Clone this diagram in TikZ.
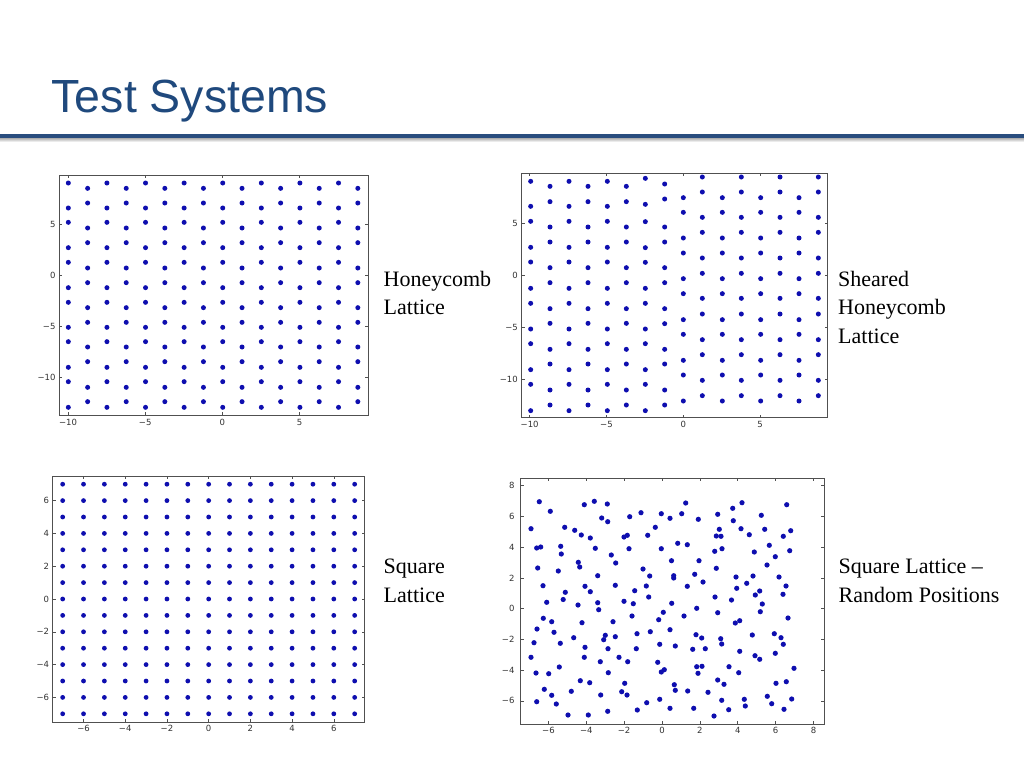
\documentclass[tikz,border=0pt]{standalone}
\usepackage{fontspec}
\setmainfont{Liberation Serif}
\newfontfamily\titlefont{Liberation Sans}
\newfontfamily\tickfont{DejaVu Sans}
\definecolor{titleblue}{RGB}{31,73,125}
\definecolor{ruleblue}{RGB}{41,77,126}
\definecolor{dotblue}{RGB}{14,14,175}
\definecolor{axisgray}{RGB}{80,80,80}
\begin{document}
\begin{tikzpicture}[x=1pt,y=-1pt,
  dot/.style={fill=dotblue},
  frame/.style={draw=axisgray,line width=0.8pt},
  tk/.style={draw=axisgray,line width=0.6pt},
  tl/.style={font=\tickfont\fontsize{8.5}{9}\selectfont,text=black!80,inner sep=0pt},
  lbl/.style={font=\fontsize{22}{28.5}\selectfont,align=left,anchor=base west,inner sep=0pt}]
\useasboundingbox (0,0) rectangle (1024,768);
\fill[white] (0,0) rectangle (1024,768);

% ---------- title and rule ----------
\node[anchor=base west,inner sep=0pt,font=\titlefont\fontsize{46.5}{50}\selectfont,text=titleblue] (title) at (51.5,112) {Test Systems};
\shade[top color=black!40,bottom color=white] (0,137) rectangle (1024,142);
\fill[ruleblue] (0,133.5) rectangle (1024,137.5);

% ---------- plot 1: honeycomb ----------
\begin{scope}[shift={(30pt,-160pt)},x=0.33333pt,y=-0.33333pt]
\foreach \xx in {115,230.8,346.6,462.4,578.2,694,809.8,925.6}
  \foreach \yy in {69,144,187,263,307,383,427,502,545,622,665,742}
    \fill[dot] (\xx,\yy) circle (2.5pt);
\foreach \xx in {172.9,288.7,404.5,520.3,636.1,751.9,867.7,983.5}
  \foreach \yy in {85,129,204,248,324,368,443,487,561,605,682,725}
    \fill[dot] (\xx,\yy) circle (2.5pt);
\draw[frame] (87,45) rectangle (1015,765);
\foreach \v/\t [count=\k] in {114/−10,345.5/−5,577/0,808.5/5} {
  \draw[tk] (\v,765) -- ++(0,-9) (\v,45) -- ++(0,9);
  \node[tl,anchor=north] (aax\k) at (\v,776) {\t};
}
\foreach \v/\t [count=\k] in {193/5,345/0,499/−5,652/−10} {
  \draw[tk] (87,\v) -- ++(9,0) (1015,\v) -- ++(-9,0);
  \node[tl,anchor=east] (aay\k) at (77,\v) {\t};
}
\end{scope}

% ---------- plot 2: sheared honeycomb ----------
\begin{scope}[shift={(490pt,-160pt)},x=0.33333pt,y=-0.33333pt]
\foreach \xx in {122,237,352}
  \foreach \yy in {64,139,184,262,306,385,430,507,551,629,673,752}
    \fill[dot] (\xx,\yy) circle (2.5pt);
\foreach \yy in {55,133,185,263,307,385,430,507,551,629,673,752}
  \fill[dot] (466,\yy) circle (2.5pt);
\foreach \xx in {180,294,409}
  \foreach \yy in {79,125,201,246,323,368,446,490,568,612,690,735}
    \fill[dot] (\xx,\yy) circle (2.5pt);
\foreach \yy in {72,117,201,246,323,368,446,491,568,612,690,735}
  \fill[dot] (524,\yy) circle (2.5pt);
\foreach \xx in {580,697,812,927}
  \foreach \yy in {113,157,234,279,356,401,479,523,601,645,723}
    \fill[dot] (\xx,\yy) circle (2.5pt);
\foreach \xx in {637,754,870,985}
  \foreach \yy in {51,96,172,217,294,340,415,462,539,584,661,707}
    \fill[dot] (\xx,\yy) circle (2.5pt);
\draw[frame] (95,40) rectangle (1013,773);
\foreach \v/\t [count=\k] in {119/−10,349.5/−5,580/0,810.5/5} {
  \draw[tk] (\v,773) -- ++(0,-9) (\v,40) -- ++(0,9);
  \node[tl,anchor=north] (abx\k) at (\v,782) {\t};
}
\foreach \v/\t [count=\k] in {190/5,346/0,502/−5,658/−10} {
  \draw[tk] (95,\v) -- ++(9,0) (1013,\v) -- ++(-9,0);
  \node[tl,anchor=east] (aby\k) at (84,\v) {\t};
}
\end{scope}

% ---------- plot 3: square lattice ----------
\begin{scope}[shift={(30pt,-470pt)},x=0.33333pt,y=-0.33333pt]
\foreach \i in {-7,...,7}
  \foreach \j in {-7,...,7}
    \fill[dot] ({536+62.57*\i},{387-49.2*\j}) circle (2.4pt);
\draw[frame] (68,18) rectangle (1004,757);
\foreach \v/\t [count=\k] in {160.6/−6,285.7/−4,410.9/−2,536/0,661.1/2,786.3/4,911.4/6} {
  \draw[tk] (\v,757) -- ++(0,-9) (\v,18) -- ++(0,9);
  \node[tl,anchor=north] (acx\k) at (\v,766) {\t};
}
\foreach \v/\t [count=\k] in {91.8/6,190.2/4,288.6/2,387/0,485.4/−2,583.8/−4,682.2/−6} {
  \draw[tk] (68,\v) -- ++(9,0) (1004,\v) -- ++(-9,0);
  \node[tl,anchor=east] (acy\k) at (58,\v) {\t};
}
\end{scope}

% ---------- plot 4: random positions ----------
\foreach \px/\py in {
539.3/501.7, 550.3/511.3, 584.3/504.7, 594.3/501.3, 607.3/504, 601.7/518, 607.7/521.7, 629.7/516.7, 641/512.7, 661.3/513.7, 670/518.3, 531/528.7, 564.7/527.3, 574.7/530.3, 581.3/535, 590.3/538, 624/537, 627.3/535.3, 647.7/535.3, 655.3/527.3, 536.7/548, 540.7/547, 560.7/546.3, 595.3/548.3, 629/548.7, 661.3/548.7, 561.3/554, 611.3/555, 615.7/563, 578.3/562.3, 579.7/567, 537.7/568, 558.3/571, 597.7/575.7, 643/569, 649.7/576, 671.5/560.7, 543/585.7, 585/586.3, 590.3/591.7, 615.3/585.3, 565.3/592.3, 634.7/590.7, 646.3/586, 648.7/597,
685.7/503, 681.7/513.7, 698.3/519.3, 717.7/514.3, 732.7/508.3, 742/502.7, 733.3/520.7, 761.3/515.3, 786.7/504.7, 719.3/529.3, 741/528.7, 749.3/534.7, 764.7/529.3, 790.7/530.7, 783.3/536.3, 716.3/536, 721/536.3, 677.7/543.3, 687.3/544.7, 722/548.7, 714.7/551.3, 754.3/552, 769.3/545.3, 789.7/550.7, 699/560.7, 775.3/556.7, 767/565, 716.3/568.3, 673.7/575.7, 673.7/578, 694.7/574.3, 703/582, 687.3/586.3, 736/577, 753/576, 746.7/583.3, 736.7/588.3, 779/577, 786/586, 759.7/591, 755.3/595, 783/594.3, 715/597, 731.5/600,
546.7/602.3, 563.2/599.5, 578/605, 597.7/602.7, 598.7/609.7, 624/601.3, 633.3/603.7, 632/616, 663.3/612.3, 658.7/619.7, 671.7/603.3, 543.3/618.3, 551.7/621.7, 582/622.7, 613/621.7, 537/629, 554/632.3, 534/642.7, 560.3/643.3, 573.7/637.7, 605.3/635.3, 603.7/639.7, 615.3/636.7, 637/633.7, 650.3/631.7, 670/629.7, 659.7/644.3, 585/647.3, 608/648.7, 636.3/648.7, 531/657.3, 584.3/657.3, 600.3/661.7, 619/657.3, 627.7/661.7, 657.7/662.3, 661.3/672, 664.3/669.7, 559.3/667, 536/673, 548.7/673.7, 608.3/672.7, 580.3/680.7, 589.7/682.7, 624.7/683.3, 544.3/689.3, 571.3/691.3, 621.7/691.7, 551.7/695.3, 600.7/695, 627/695, 536.7/701.7, 556.3/704, 659.7/699.3, 646.7/702.7, 670/708.3, 637.3/710, 607.7/711.3, 568/715, 588.3/715,
696.7/608.3, 762.3/604, 760.3/611.7, 684/616, 717.7/612.7, 788/618, 735.3/623, 739.7/620.7, 696/634.7, 701.7/638, 720.7/638.7, 721.7/644, 752.3/635, 774.3/633.7, 781/637.7, 783.3/644.3, 675.3/646, 692.7/649.3, 705.3/648.7, 739.7/651.3, 755/655.7, 759.7/659.3, 775.3/653.3, 696.7/666.7, 702/666.3, 698/673.3, 729/666.7, 738.7/672.7, 794/668.3, 717.7/680, 724/684.3, 776/683.3, 786.3/681.7, 674.3/684.7, 675.3/690.3, 687.7/691, 708/692.3, 767.3/696.3, 721.7/700.3, 744.3/699.3, 745.3/706, 771.7/703.7, 791.7/699, 693.7/708.3, 728.7/709.7, 784/709.3, 714/716}
  \fill[dot] (\px,\py) circle (2.6pt);
\begin{scope}[shift={(490pt,-470pt)},x=0.33333pt,y=-0.33333pt]
\draw[frame] (92,25) rectangle (1002,762);
\foreach \v/\t [count=\k] in {175.2/−6,288.8/−4,402.4/−2,516/0,629.6/2,743.2/4,856.8/6,970.4/8} {
  \draw[tk] (\v,762) -- ++(0,-9) (\v,25) -- ++(0,9);
  \node[tl,anchor=north] (adx\k) at (\v,772) {\t};
}
\foreach \v/\t [count=\k] in {47.2/8,139.4/6,231.6/4,323.8/2,416/0,508.2/−2,600.4/−4,692.6/−6} {
  \draw[tk] (92,\v) -- ++(9,0) (1002,\v) -- ++(-9,0);
  \node[tl,anchor=east] (ady\k) at (74,\v) {\t};
}
\end{scope}

% ---------- captions (base = last line) ----------
\node[lbl] (cap1) at (383.5,314.5) {Honeycomb\\Lattice};
\node[lbl] (cap2) at (838,343) {Sheared\\Honeycomb\\Lattice};
\node[lbl] (cap3) at (383.5,602) {Square\\Lattice};
\node[lbl] (cap4) at (838.5,602) {Square Lattice –\\Random Positions};
\end{tikzpicture}
\end{document}
